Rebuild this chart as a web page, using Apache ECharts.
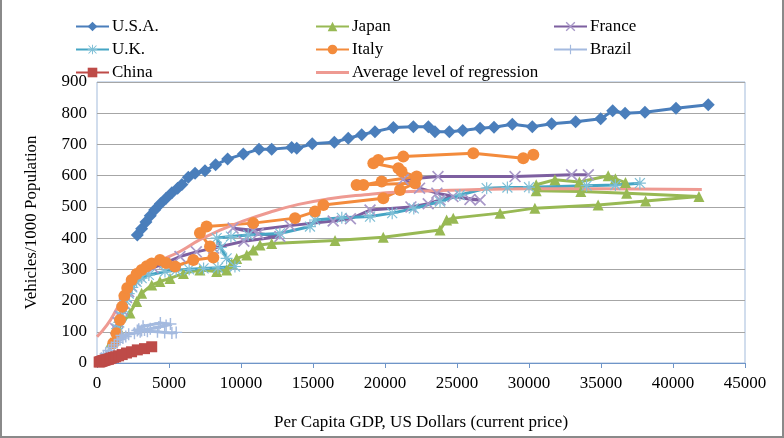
<!DOCTYPE html>
<html>
<head>
<meta charset="utf-8">
<script src="https://cdn.jsdelivr.net/npm/echarts@6/dist/echarts.min.js"></script>
<style>
  html, body { margin: 0; padding: 0; background: #fff; }
  #chart { width: 784px; height: 438px; position: absolute; left: 0; top: 0; }
  #frame { position: absolute; left: 0; top: 0; width: 784px; height: 438px; box-sizing: border-box;
           border-left: 2px solid #8a8a8a; border-right: 2px solid #8a8a8a; border-bottom: 2px solid #8a8a8a; pointer-events: none; }
</style>
</head>
<body>
<div id="chart"></div>
<div id="frame"></div>
<script>
// [GDP per capita, vehicles per 1000]
var usa = [[2800,410],[3100,430],[3400,452],[3700,472],[4000,490],[4400,510],[4800,528],[5200,545],[5600,560],[5900,572],
  [6340,595],[6810,608],[7500,616],[8240,635],[9070,653],[10160,669],[11250,685],[12130,685],[13520,690],[13870,688],
  [14950,702],[16480,707],[17450,720],[18380,731],[19300,741],[20580,754],[21970,757],[23010,757],[23470,741],[24470,741],
  [25400,745],[26600,752],[27570,755],[28840,765],[30230,757],[31570,766],[33240,773],[34980,782],[35810,808],[36670,800],
  [38050,803],[40210,816],[42450,827]];
var japan = [[950,65],[1500,110],[2290,160],[2750,197],[3100,223],[3800,250],[4370,261],[5070,271],[6000,287],[7150,298],
  [8310,293],[9000,298],[9350,319],[9700,335],[10400,346],[10850,362],[11320,378],[12130,383],[16530,392],[19880,403],
  [23820,426],[24280,458],[24740,464],[27990,480],[30410,496],[34800,506],[38100,519],[41800,533],[36780,544],[33600,549],
  [30500,552],[30500,571],[31800,587],[33500,580],[35500,600],[36000,590],[36700,578]];
var france = [[1300,110],[1450,130],[1600,150],[1750,170],[1900,190],[2050,210],[2200,228],[2400,246],[2650,264],[2900,280],
  [3300,292],[3900,305],[4700,320],[5760,341],[6900,356],[8100,368],[10200,390],[12700,405],[11200,415],[9450,432],
  [10840,425],[13400,440],[16400,455],[17600,462],[18960,490],[21800,500],[23000,510],[23820,522],[24720,533],[26600,522],
  [25900,524],[23600,544],[22400,560],[21270,588],[23680,597],[29030,597],[32960,603],[34120,603]];
var uk = [[1400,110],[1550,130],[1700,150],[1850,175],[2000,200],[2200,222],[2450,242],[2750,260],[3100,272],[3600,282],
  [4720,293],[5500,297],[6400,300],[7400,303],[8400,305],[9580,309],[9000,335],[8600,370],[8310,400],[9300,405],
  [10500,410],[12700,415],[14790,437],[15140,458],[17000,465],[18960,469],[20500,480],[22000,495],[23820,517],[25200,538],
  [27060,560],[28500,562],[30000,563],[34000,568],[36000,570],[37700,576]];
var italy = [[1130,63],[1350,95],[1600,138],[1750,180],[1900,215],[2100,240],[2410,266],[2750,285],[3100,298],[3450,310],
  [3800,319],[4370,330],[4800,320],[5420,309],[6690,330],[8080,338],[7850,373],[7150,416],[7610,437],[10850,448],
  [13750,464],[15140,485],[15720,506],[19880,528],[21040,554],[22080,576],[18030,570],[18500,570],[19770,581],[22200,597],
  [21150,613],[20930,624],[19190,640],[19530,650],[21270,661],[26130,672],[29600,656],[30300,667]];
var brazil = [[300,15],[450,22],[600,30],[800,40],[1000,50],[1200,58],[1400,66],[1600,75],[1800,80],[2000,85],
  [1700,88],[2200,92],[2600,95],[3000,100],[2800,104],[3300,106],[3700,110],[4300,115],[4800,120],[5100,125],
  [4400,128],[3200,118],[2900,108],[3100,104],[3500,102],[4200,100],[4700,98],[5200,96],[5500,98]];
var china = [[150,3],[220,4],[280,5],[340,6],[400,7],[460,8],[530,9],[600,10],[700,11],[800,12],
  [900,14],[1000,16],[1150,18],[1300,20],[1500,23],[1750,27],[2050,32],[2400,36],[2800,42],[3300,46],[3800,52]];
var regression = [[0,84],[700,122],[1400,175],[2060,228],[3000,285],[4140,322],[5760,357],[7150,395],[8400,422],
  [10000,452],[12000,483],[14000,508],[16000,525],[18600,539],[21000,548],[24500,553],[30000,558],[35000,558],[42000,556]];

var xMark = 'path://M0,1L1,0L5,4L9,0L10,1L6,5L10,9L9,10L5,6L1,10L0,9L4,5Z';
var plusMark = 'path://M4.4,0H5.6V4.4H10V5.6H5.6V10H4.4V5.6H0V4.4H4.4Z';
var starMark = 'path://M4.5,0H5.5V4.5H10V5.5H5.5V10H4.5V5.5H0V4.5H4.5Z M1.2,0.5L5,4.3L8.8,0.5L9.5,1.2L5.7,5L9.5,8.8L8.8,9.5L5,5.7L1.2,9.5L0.5,8.8L4.3,5L0.5,1.2Z';
var lineIcon = 'path://M0,0H33V3H0Z';

var font = 'Liberation Serif';
var chart = echarts.init(document.getElementById('chart'));

function line(name, data, color, symbol, size, symColor) {
  return {
    name: name, type: 'line', data: data, symbol: symbol, symbolSize: size,
    showSymbol: symbol !== 'none',
    lineStyle: { color: color, width: 3 },
    itemStyle: { color: symColor || color },
    emphasis: { disabled: true },
    animation: false
  };
}

var legendBase = {
  orient: 'vertical', itemWidth: 33, itemHeight: 12, itemGap: 6,
  textStyle: { fontFamily: font, fontSize: 17, color: '#000', padding: [0, 0, 0, -2] }
};

chart.setOption({
  backgroundColor: '#fff',
  textStyle: { fontFamily: font },
  legend: [
    Object.assign({ left: 70, top: 13, data: ['U.S.A.', 'U.K.', 'China'] }, legendBase),
    Object.assign({ left: 310, top: 13, data: ['Japan', 'Italy', { name: 'Average level of regression', icon: lineIcon }] }, legendBase),
    Object.assign({ left: 548, top: 13, data: ['France', 'Brazil'] }, legendBase)
  ],
  grid: { left: 97, right: 39, top: 82, bottom: 75, show: true, borderColor: '#a3bbdb', borderWidth: 1 },
  xAxis: {
    type: 'value', min: 0, max: 45000, interval: 5000,
    name: 'Per Capita GDP, US Dollars (current price)', nameLocation: 'middle', nameGap: 51,
    nameTextStyle: { fontFamily: font, fontSize: 17, color: '#000' },
    axisLine: { lineStyle: { color: '#6f95c8', width: 1 } },
    axisTick: { show: true, length: 5, lineStyle: { color: '#6f95c8' } },
    axisLabel: { fontFamily: font, fontSize: 17, color: '#000', margin: 12, formatter: function (v) { return String(v); } },
    splitLine: { show: false }
  },
  yAxis: {
    type: 'value', min: 0, max: 900, interval: 100,
    name: 'Vehicles/1000 Population', nameLocation: 'middle', nameGap: 57,
    nameTextStyle: { fontFamily: font, fontSize: 17, color: '#000' },
    axisLine: { show: false },
    axisTick: { show: false },
    axisLabel: { fontFamily: font, fontSize: 17, color: '#000', margin: 10 },
    splitLine: { lineStyle: { color: '#a6a6a6', width: 1 } }
  },
  series: [
    line('U.S.A.', usa, '#4a7ebb', 'diamond', 13),
    line('Japan', japan, '#98b954', 'triangle', 11),
    line('France', france, '#7d5fa0', xMark, 12, '#a898c8'),
    line('U.K.', uk, '#45a5c4', starMark, 12, '#7fbfd6'),
    line('Italy', italy, '#f38b3c', 'circle', 12),
    line('Brazil', brazil, '#a4badf', plusMark, 12),
    line('China', china, '#be4b48', 'rect', 11),
    Object.assign(line('Average level of regression', regression, '#ee9a92', 'none', 0), { smooth: true })
  ]
});
</script>
</body>
</html>
